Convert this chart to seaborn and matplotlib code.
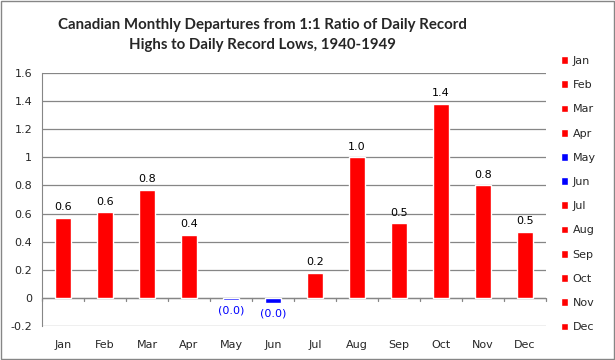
import matplotlib
matplotlib.use("Agg")
import matplotlib.pyplot as plt
import seaborn as sns
import pandas as pd
from matplotlib.patches import Rectangle

months = ['Jan', 'Feb', 'Mar', 'Apr', 'May', 'Jun', 'Jul', 'Aug', 'Sep', 'Oct', 'Nov', 'Dec']
values = [0.57, 0.61, 0.77, 0.45, -0.012, -0.035, 0.18, 1.00, 0.53, 1.38, 0.80, 0.47]
labels = ['0.6', '0.6', '0.8', '0.4', '(0.0)', '(0.0)', '0.2', '1.0', '0.5', '1.4', '0.8', '0.5']

sns.set_style("white")
plt.rcParams['font.family'] = ['DejaVu Sans']

df = pd.DataFrame({'Month': months, 'Value': values})
palette = {m: ('#0000FF' if v < 0 else '#FF0000') for m, v in zip(months, values)}

fig = plt.figure(figsize=(6.15, 3.6), dpi=100)
ax = fig.add_axes([42 / 615, 1 - 326 / 360, (546 - 42) / 615, (326 - 73) / 360])

sns.barplot(data=df, x='Month', y='Value', hue='Month', palette=palette,
            dodge=False, width=0.38, ax=ax, legend=True, saturation=1, zorder=3)

ax.set_ylim(-0.2, 1.6)
ax.set_xlim(-0.5, 11.5)
ax.set_yticks([-0.2, 0, 0.2, 0.4, 0.6, 0.8, 1.0, 1.2, 1.4, 1.6])
ax.set_yticklabels(['-0.2', '0', '0.2', '0.4', '0.6', '0.8', '1', '1.2', '1.4', '1.6'], fontsize=8)
ax.yaxis.grid(True, color='#868686', linewidth=0.9)
ax.set_axisbelow(True)
for s in ['top', 'right', 'bottom']:
    ax.spines[s].set_visible(False)
ax.spines['left'].set_color('#868686')
ax.tick_params(axis='y', length=4, color='#868686', direction='out', pad=3)
ax.tick_params(axis='x', length=0, labelsize=8, pad=10)
ax.set_xlabel('')
ax.set_ylabel('')

# axis line at zero with category-boundary ticks
ax.axhline(0, color='#868686', linewidth=0.9, zorder=1)
for b in range(0, 13):
    ax.plot([b - 0.5, b - 0.5], [0, -0.025], color='#868686', linewidth=0.9, clip_on=False)

for i, (v, t) in enumerate(zip(values, labels)):
    if v >= 0:
        ax.text(i, v + 0.04, t, ha='center', va='bottom', fontsize=8, color='black')
    else:
        ax.text(i, v - 0.04, t, ha='center', va='top', fontsize=8, color='#0000FF')

leg = ax.legend(loc='upper left', bbox_to_anchor=(1.02, 1.085), frameon=False,
                fontsize=8, handlelength=0.7, handleheight=0.7, labelspacing=1.28,
                handletextpad=0.4, borderaxespad=0)

fig.suptitle('Canadian Monthly Departures from 1:1 Ratio of Daily Record\nHighs to Daily Record Lows, 1940-1949',
             fontsize=10.8, fontweight='bold', family=['Lato', 'DejaVu Sans'],
             x=(262 / 615), y=0.95, linespacing=1.5)

fig.patches.append(Rectangle((0.002, 0.002), 0.996, 0.996, transform=fig.transFigure,
                             fill=False, edgecolor='#868686', linewidth=1))

fig.savefig('out.png', dpi=100)
